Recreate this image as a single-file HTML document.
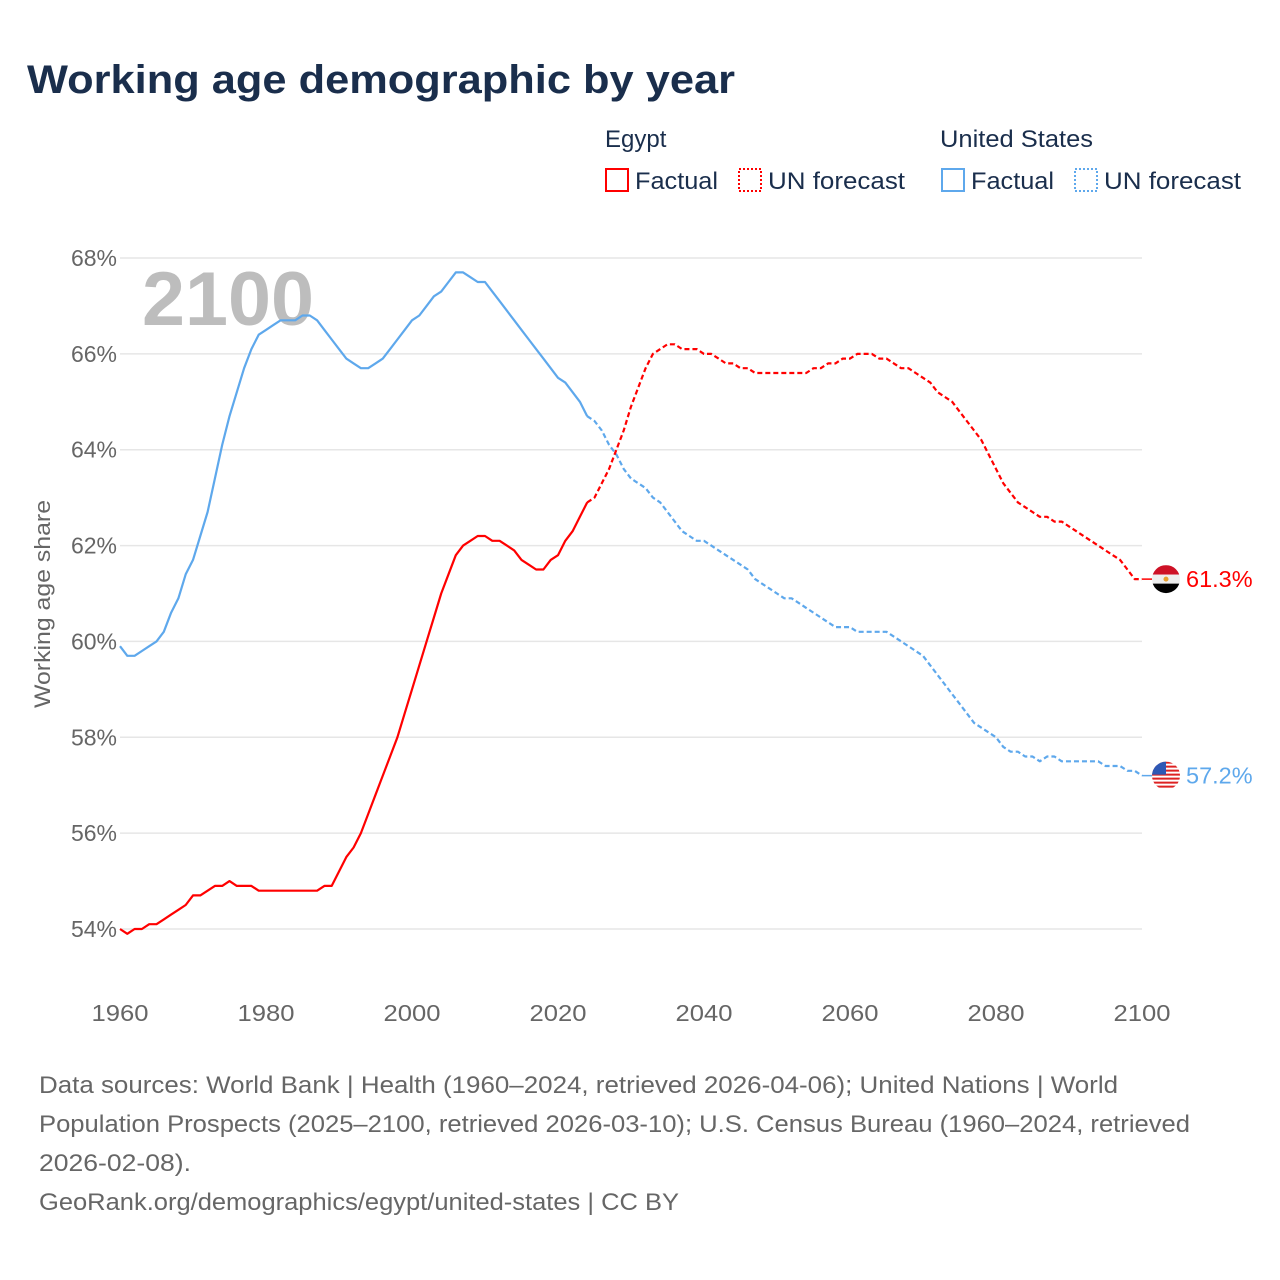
<!DOCTYPE html>
<html><head><meta charset="utf-8"><style>
body{margin:0;background:#fff;}
svg{display:block;font-family:"Liberation Sans",sans-serif;}
</style></head><body>
<svg id="chart" width="1280" height="1280" viewBox="0 0 1280 1280">
<text x="27" y="93" font-size="40" font-weight="bold" fill="#1a2e4c" textLength="708" lengthAdjust="spacingAndGlyphs">Working age demographic by year</text>
<g font-size="24" fill="#1a2e4c">
<text x="605" y="147">Egypt</text>
<text x="940" y="147" textLength="153" lengthAdjust="spacingAndGlyphs">United States</text>
<g><rect x="606" y="169" width="22" height="22" fill="none" stroke="#f00" stroke-width="2"/><text x="635" y="189" textLength="83" lengthAdjust="spacingAndGlyphs">Factual</text></g>
<g><rect x="739" y="169" width="22" height="22" fill="none" stroke="#f00" stroke-width="2" stroke-dasharray="2 2"/><text x="768" y="189" textLength="137" lengthAdjust="spacingAndGlyphs">UN forecast</text></g>
<g><rect x="942" y="169" width="22" height="22" fill="none" stroke="#5ea8ec" stroke-width="2"/><text x="971" y="189" textLength="83" lengthAdjust="spacingAndGlyphs">Factual</text></g>
<g><rect x="1075" y="169" width="22" height="22" fill="none" stroke="#5ea8ec" stroke-width="2" stroke-dasharray="2 2"/><text x="1104" y="189" textLength="137" lengthAdjust="spacingAndGlyphs">UN forecast</text></g>
</g>
<g id="grid"></g>
<g id="yticks"></g>
<g id="xticks"></g>
<text x="142" y="325" font-size="76" font-weight="bold" fill="#bdbdbd" textLength="172" lengthAdjust="spacingAndGlyphs">2100</text>
<text transform="translate(50,604) rotate(-90)" text-anchor="middle" font-size="22" fill="#666" textLength="208" lengthAdjust="spacingAndGlyphs">Working age share</text>
<g id="series"></g>
<g id="ends"></g>
<g font-size="24" fill="#666">
<text x="39" y="1093" textLength="1079" lengthAdjust="spacingAndGlyphs">Data sources: World Bank | Health (1960–2024, retrieved 2026-04-06); United Nations | World</text>
<text x="39" y="1132" textLength="1151" lengthAdjust="spacingAndGlyphs">Population Prospects (2025–2100, retrieved 2026-03-10); U.S. Census Bureau (1960–2024, retrieved</text>
<text x="39" y="1171" textLength="152" lengthAdjust="spacingAndGlyphs">2026-02-08).</text>
<text x="39" y="1210" textLength="640" lengthAdjust="spacingAndGlyphs">GeoRank.org/demographics/egypt/united-states | CC BY</text>
</g>
</svg>
<script>
const yTicks=[54,56,58,60,62,64,66,68];
const xTicks=[1960,1980,2000,2020,2040,2060,2080,2100];
const usFactual=[59.9,59.7,59.7,59.8,59.9,60.0,60.2,60.6,60.9,61.4,61.7,62.2,62.7,63.4,64.1,64.7,65.2,65.7,66.1,66.4,66.5,66.6,66.7,66.7,66.7,66.8,66.8,66.7,66.5,66.3,66.1,65.9,65.8,65.7,65.7,65.8,65.9,66.1,66.3,66.5,66.7,66.8,67.0,67.2,67.3,67.5,67.7,67.7,67.6,67.5,67.5,67.3,67.1,66.9,66.7,66.5,66.3,66.1,65.9,65.7,65.5,65.4,65.2,65.0,64.7];
const usForecast=[64.7,64.6,64.4,64.1,63.9,63.6,63.4,63.3,63.2,63.0,62.9,62.7,62.5,62.3,62.2,62.1,62.1,62.0,61.9,61.8,61.7,61.6,61.5,61.3,61.2,61.1,61.0,60.9,60.9,60.8,60.7,60.6,60.5,60.4,60.3,60.3,60.3,60.2,60.2,60.2,60.2,60.2,60.1,60.0,59.9,59.8,59.7,59.5,59.3,59.1,58.9,58.7,58.5,58.3,58.2,58.1,58.0,57.8,57.7,57.7,57.6,57.6,57.5,57.6,57.6,57.5,57.5,57.5,57.5,57.5,57.5,57.4,57.4,57.4,57.3,57.3,57.2];
const egFactual=[54.0,53.9,54.0,54.0,54.1,54.1,54.2,54.3,54.4,54.5,54.7,54.7,54.8,54.9,54.9,55.0,54.9,54.9,54.9,54.8,54.8,54.8,54.8,54.8,54.8,54.8,54.8,54.8,54.9,54.9,55.2,55.5,55.7,56.0,56.4,56.8,57.2,57.6,58.0,58.5,59.0,59.5,60.0,60.5,61.0,61.4,61.8,62.0,62.1,62.2,62.2,62.1,62.1,62.0,61.9,61.7,61.6,61.5,61.5,61.7,61.8,62.1,62.3,62.6,62.9];
const egForecast=[62.9,63.0,63.3,63.6,64.0,64.4,64.9,65.3,65.7,66.0,66.1,66.2,66.2,66.1,66.1,66.1,66.0,66.0,65.9,65.8,65.8,65.7,65.7,65.6,65.6,65.6,65.6,65.6,65.6,65.6,65.6,65.7,65.7,65.8,65.8,65.9,65.9,66.0,66.0,66.0,65.9,65.9,65.8,65.7,65.7,65.6,65.5,65.4,65.2,65.1,65.0,64.8,64.6,64.4,64.2,63.9,63.6,63.3,63.1,62.9,62.8,62.7,62.6,62.6,62.5,62.5,62.4,62.3,62.2,62.1,62.0,61.9,61.8,61.7,61.5,61.3,61.3];
const NS="http://www.w3.org/2000/svg";
function xs(yr){return 120+(yr-1960)*(1142-120)/140;}
function ys(v){return 929-(v-54)*(929-258)/14;}
function mk(tag,attrs,parent){const e=document.createElementNS(NS,tag);for(const k in attrs)e.setAttribute(k,attrs[k]);parent.appendChild(e);return e;}
const grid=document.getElementById('grid'),yt=document.getElementById('yticks'),xt=document.getElementById('xticks');
yTicks.forEach(v=>{
 const l=mk('line',{x1:120,x2:1142,y1:ys(v),y2:ys(v),stroke:'#e6e6e6','stroke-width':1.5},grid);
 
 
 const t=mk('text',{x:117,y:ys(v)+8,'text-anchor':'end','font-size':23,fill:'#666'},yt);
 t.textContent=v+'%';
 
 
});
xTicks.forEach(yr=>{
 const t=mk('text',{x:xs(yr),y:1021,'text-anchor':'middle','font-size':23,fill:'#666',textLength:57,lengthAdjust:'spacingAndGlyphs'},xt);
 t.textContent=yr;
 
 
});
const ser=document.getElementById('series');
function line(data,start,color,dash,name){
 const d=data.map((v,i)=>(i?'L':'M')+xs(start+i).toFixed(1)+','+ys(v).toFixed(1)).join('');
 const p=mk('path',{d:d,fill:'none',stroke:color,'stroke-width':2.2,'stroke-linejoin':'round'},ser);
 if(dash)p.setAttribute('stroke-dasharray',dash);
 
 
}
line(usFactual,1960,'#5ea8ec',null,'us-factual-line');
line(usForecast,2024,'#5ea8ec','5 3','us-forecast-line');
line(egFactual,1960,'#f00',null,'egypt-factual-line');
line(egForecast,2024,'#f00','5 3','egypt-forecast-line');
const ends=document.getElementById('ends');
function endMark(v,color,kind,name){
 const cy=ys(v),cx=1166;
 const g=mk('g',{},ends);
 
 
 mk('line',{x1:1142,x2:1152,y1:cy,y2:cy,stroke:color,'stroke-width':1.5},g);
 const cp='cp-'+kind;
 const defs=mk('defs',{},g);const c=mk('clipPath',{id:cp},defs);mk('circle',{cx:cx,cy:cy,r:14},c);
 const gg=mk('g',{'clip-path':'url(#'+cp+')'},g);
 if(kind==='eg'){
  mk('rect',{x:cx-14,y:cy-14,width:28,height:9.5,fill:'#ce1126'},gg);
  mk('rect',{x:cx-14,y:cy-4.5,width:28,height:9,fill:'#eee'},gg);
  mk('rect',{x:cx-14,y:cy+4.5,width:28,height:10,fill:'#000'},gg);
  mk('circle',{cx:cx,cy:cy,r:2.5,fill:'#e8a030'},gg);
 }else{
  mk('rect',{x:cx-14,y:cy-14,width:28,height:28,fill:'#fff'},gg);
  for(let i=0;i<7;i++)mk('rect',{x:cx-14,y:cy-14+i*4,width:28,height:2,fill:'#d22'},gg);
  mk('rect',{x:cx-14,y:cy-14,width:14,height:13,fill:'#2e58b5'},gg);
 }
 const t=mk('text',{x:1186,y:cy+8,'font-size':23.5,fill:color},ends);
 t.textContent=v.toFixed(1)+'%';
 
 
}
endMark(egForecast[egForecast.length-1],'#f00','eg','egypt');
endMark(usForecast[usForecast.length-1],'#5ea8ec','us','us');
</script>
</body></html>
